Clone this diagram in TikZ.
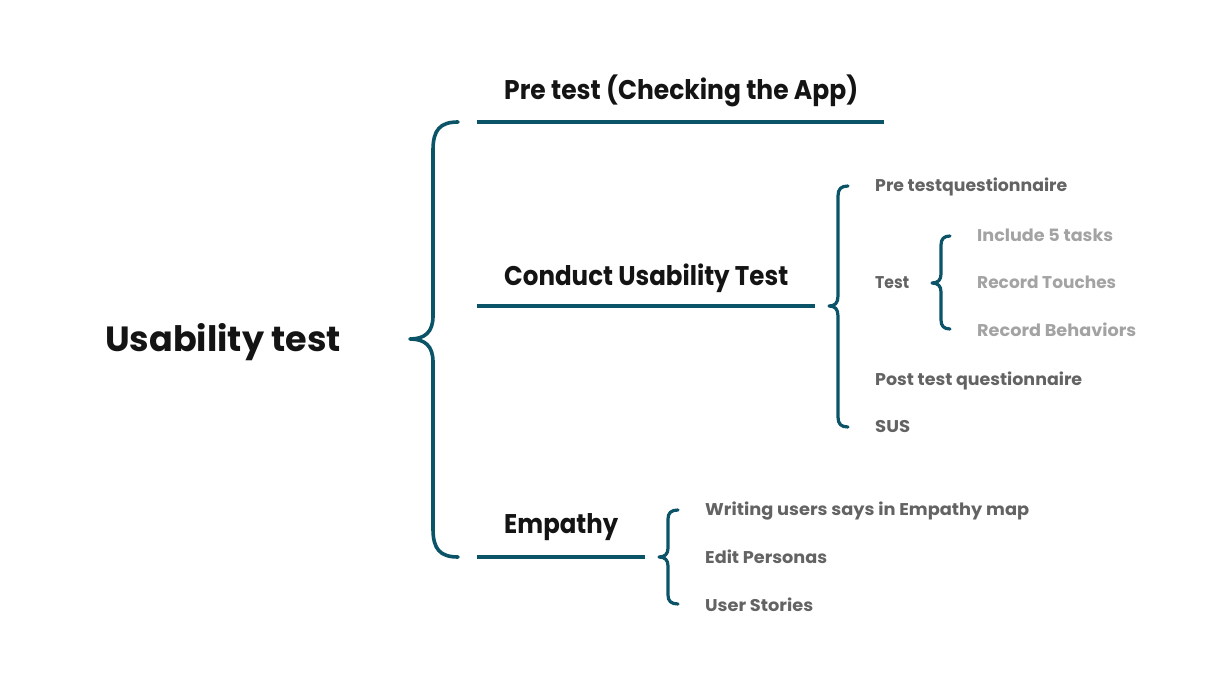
\documentclass[tikz,border=0pt]{standalone}
\usepackage{fontspec}
\setmainfont{Poppins}
\usepackage{graphicx}
\definecolor{teal1}{HTML}{0B5468}
\definecolor{head}{HTML}{141414}
\definecolor{itemgray}{HTML}{636363}
\definecolor{lightgray1}{HTML}{A3A3A3}
\newcommand{\fitwidth}[2]{\resizebox{#1}{\height}{#2}}
\tikzset{
  bracket/.style={draw=teal1, line width=3.6pt, line cap=round, line join=round},
  smallbracket/.style={draw=teal1, line width=3.2pt, line cap=round, line join=round},
  rule/.style={draw=teal1, line width=3.6pt},
  title/.style={anchor=base west, inner sep=0pt, text=head, font=\fontsize{35}{40}\selectfont\bfseries},
  heading/.style={anchor=base west, inner sep=0pt, text=head, font=\fontsize{27}{32}\selectfont\bfseries},
  item/.style={anchor=base west, inner sep=0pt, text=itemgray, font=\fontsize{17}{20}\selectfont\bfseries},
  subitem/.style={anchor=base west, inner sep=0pt, text=lightgray1, font=\fontsize{17}{20}\selectfont\bfseries}
}
\begin{document}
\begin{tikzpicture}[x=1pt,y=-1pt]
\useasboundingbox (0,0) rectangle (1207,687);
% title
\node[title] (root) at (105,351) {\fitwidth{236pt}{Usability test}};
% main brace
\draw[bracket] (458,122) .. controls (440,122) and (433,130) .. (433,150) -- (433,316)
  .. controls (433,332) and (425,339) .. (410,339)
  .. controls (425,339) and (433,346) .. (433,362) -- (433,529)
  .. controls (433,549) and (440,557) .. (458,557);
% headings
\node[heading] (pre) at (504,100) {\fitwidth{354pt}{Pre test (Checking the App)}};
\node[heading] (conduct) at (504,285) {\fitwidth{284pt}{Conduct Usability Test}};
\node[heading] (emp) at (504,533) {\fitwidth{114pt}{Empathy}};
\coordinate (preA) at (477,122); \coordinate (preB) at (884,122);
\coordinate (conA) at (477,306); \coordinate (conB) at (815,306);
\coordinate (empA) at (477,557); \coordinate (empB) at (645,557);
\draw[rule] (preA) -- (preB);
\draw[rule] (conA) -- (conB);
\draw[rule] (empA) -- (empB);
% conduct brace
\draw[smallbracket] (848,186) .. controls (841,186) and (838,189) .. (838,196) -- (838,296)
  .. controls (838,303) and (835,306) .. (829,306)
  .. controls (835,306) and (838,309) .. (838,316) -- (838,417)
  .. controls (838,424) and (841,427) .. (848,427);
\node[item] (i1) at (875,192) {\fitwidth{192pt}{Pre testquestionnaire}};
\node[item] (i2) at (875,288) {\fitwidth{34pt}{Test}};
\node[item] (i3) at (875,385) {\fitwidth{207pt}{Post test questionnaire}};
\node[item] (i4) at (875,432) {\fitwidth{35pt}{SUS}};
% test brace
\draw[smallbracket] (950,236) .. controls (944,236) and (941,239) .. (941,245) -- (941,274)
  .. controls (941,280) and (938,283) .. (932,283)
  .. controls (938,283) and (941,286) .. (941,292) -- (941,320)
  .. controls (941,326) and (944,329) .. (950,329);
\node[subitem] (s1) at (977,241) {\fitwidth{136pt}{Include 5 tasks}};
\node[subitem] (s2) at (977,288) {\fitwidth{139pt}{Record Touches}};
\node[subitem] (s3) at (977,336) {\fitwidth{159pt}{Record Behaviors}};
% empathy brace
\draw[smallbracket] (678,510) .. controls (671,510) and (668,513) .. (668,519) -- (668,548)
  .. controls (668,554) and (665,557) .. (659,557)
  .. controls (665,557) and (668,560) .. (668,566) -- (668,595)
  .. controls (668,601) and (671,604) .. (678,604);
\node[item] (e1) at (705,515) {\fitwidth{324pt}{Writing users says in Empathy map}};
\node[item] (e2) at (705,563) {\fitwidth{122pt}{Edit Personas}};
\node[item] (e3) at (705,611) {\fitwidth{108pt}{User Stories}};
\end{tikzpicture}
\end{document}
